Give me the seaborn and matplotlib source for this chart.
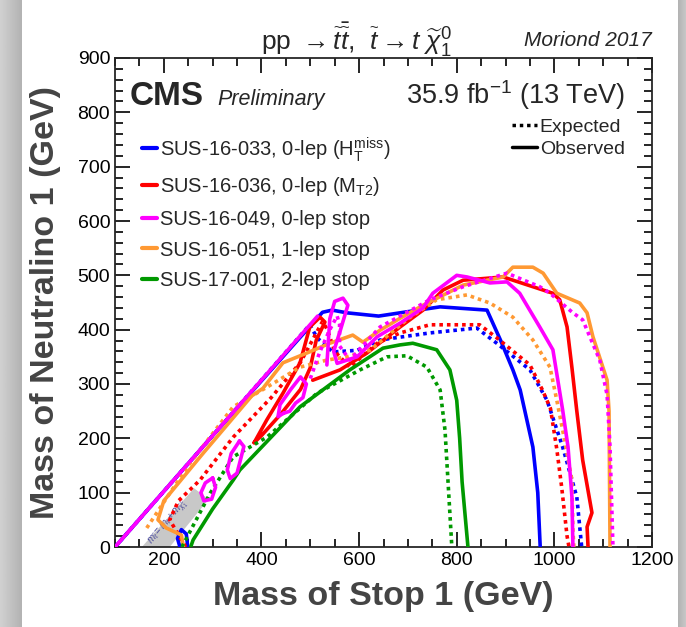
import numpy as np
import pandas as pd
import matplotlib
matplotlib.use('Agg')
import matplotlib.pyplot as plt
import seaborn as sns

# ---- limit contours (m_stop, m_LSP in GeV) ----
diag_x = [100, 300, 515]
diag_y = [0, 205, 425]

blue_obs_x = [105, 300, 525, 545, 575, 640, 684, 766, 862, 890, 915, 930, 956, 966, 971]
blue_obs_y = [5, 205, 432, 436, 431, 425, 431, 442, 436, 380, 326, 289, 184, 100, 0]
blue_bump_x = [233, 228, 236, 246, 249]
blue_bump_y = [0, 16, 32, 24, 0]
blue_exp_x = [100, 300, 499, 514, 546, 596, 643, 745, 841, 882, 950, 985, 1017, 1046, 1056]
blue_exp_y = [0, 205, 409, 385, 359, 362, 381, 394, 403, 375, 326, 270, 184, 92, 0]

red_obs_x = [385, 411, 444, 479, 499, 520, 530, 512, 500, 480, 440, 400, 385,
             None, 505, 561, 616, 684, 731, 772, 813, 895, 997, 1011, 1026, 1036,
             1046, 1058, 1077, 1067, 1069]
red_obs_y = [192, 234, 283, 339, 405, 423, 414, 380, 330, 290, 245, 205, 192,
             None, 307, 326, 357, 405, 436, 473, 491, 497, 467, 455, 405, 330,
             250, 160, 63, 37, 0]
red_exp_x = [245, 212, 230, 274, 342, 420, 480, 510, 525, 535, 550, 581, 637, 684,
             745, 847, 882, 950, 975, 992, 1005, 1015, 1026, 1030]
red_exp_y = [0, 50, 85, 123, 202, 275, 340, 390, 415, 400, 360, 331, 375, 394,
             409, 409, 385, 335, 290, 255, 180, 110, 20, 0]

mag_obs_x = [534, 540, 550, 567, 577, 562, 548, 555, 596, 637, 684, 731, 751, 800,
             821, 868, 903, 929, 970, 997, 1017, 1028, 1036, 1038]
mag_obs_y = [335, 420, 452, 458, 445, 400, 360, 338, 350, 387, 412, 440, 467, 500,
             497, 486, 488, 467, 405, 363, 252, 184, 92, 0]
mag_isl1_x = [300, 285, 276, 282, 298, 306, 300]
mag_isl1_y = [127, 118, 100, 85, 88, 110, 127]
mag_isl2_x = [355, 338, 330, 336, 350, 364, 355]
mag_isl2_y = [195, 172, 142, 126, 136, 185, 195]
mag_isl3_x = [445, 434, 438, 460, 480, 492, 485, 470, 458, 445]
mag_isl3_y = [246, 240, 262, 290, 313, 300, 275, 265, 250, 246]
mag_exp_x = [500, 520, 540, 555, 560, 560, 581, 643, 745, 813, 903, 970, 991, 1038,
             1058, 1093, 1108, 1114, 1120]
mag_exp_y = [310, 360, 400, 425, 410, 370, 344, 405, 455, 479, 504, 479, 467, 431,
             418, 344, 280, 184, 0]

ora_obs_x = [240, 236, 205, 188, 200, 280, 380, 403, 444, 493, 540, 587, 608, 643,
             684, 731, 813, 895, 915, 956, 977, 1005, 1052, 1067, 1079, 1108, 1112, 1114]
ora_obs_y = [0, 22, 35, 50, 85, 172, 278, 292, 339, 357, 375, 390, 377, 399,
             421, 445, 482, 497, 515, 515, 504, 467, 449, 431, 387, 307, 250, 0]
ora_exp_x = [165, 250, 342, 411, 479, 534, 575, 622, 700, 759, 821, 868, 915, 956,
             991, 1005, 1017, 1036, 1038, 1040]
ora_exp_y = [35, 150, 258, 294, 331, 344, 350, 362, 420, 455, 464, 449, 423, 381,
             331, 270, 215, 123, 31, 0]

grn_obs_x = [255, 260, 300, 342, 356, 479, 581, 649, 684, 710, 759, 786, 800, 806,
             811, 818, 823]
grn_obs_y = [0, 13, 70, 123, 142, 258, 326, 366, 372, 375, 363, 326, 270, 200,
             120, 50, 0]
grn_exp_x = [237, 295, 342, 411, 514, 602, 657, 698, 739, 766, 776, 782, 790]
grn_exp_y = [0, 99, 166, 202, 283, 326, 350, 352, 331, 289, 215, 123, 0]

band_x = [155, 212, 292, 262]
band_y = [0, 0, 88, 108]

labels = ['SUS-16-033, 0-lep (H$_\\mathrm{T}^\\mathrm{miss}$)',
          'SUS-16-036, 0-lep (M$_\\mathrm{T2}$)',
          'SUS-16-049, 0-lep stop',
          'SUS-16-051, 1-lep stop',
          'SUS-17-001, 2-lep stop']
colors = ['#0000ff', '#ff0000', '#ff00ff', '#ff9933', '#009900']

sns.set_style('ticks')
plt.rcParams['font.family'] = ['Liberation Sans', 'DejaVu Sans']
plt.rcParams['mathtext.fontset'] = 'custom'
plt.rcParams['mathtext.rm'] = 'Liberation Sans'
plt.rcParams['mathtext.it'] = 'Liberation Sans:italic'
plt.rcParams['mathtext.bf'] = 'Liberation Sans:bold'

fig = plt.figure(figsize=(6.86, 6.27), dpi=100)
ax = fig.add_axes([115/686, 80/627, 537/686, 489/627])

# grey screenshot edges
gl = fig.add_axes([0, 0, 22/686, 1])
gl.imshow(np.linspace(0.82, 0.70, 50).reshape(1, -1), cmap='gray', vmin=0, vmax=1,
          aspect='auto')
gl.axis('off')
gr = fig.add_axes([678/686, 0, 8/686, 1])
gr.imshow(np.linspace(0.70, 0.78, 20).reshape(1, -1), cmap='gray', vmin=0, vmax=1,
          aspect='auto')
gr.axis('off')

ax.fill(band_x, band_y, color='#c8c8c8', zorder=1, lw=0)
ax.text(210, 45, r'$m_{\tilde{t}}=m_{t}+m_{\tilde{\chi}^{0}_{1}}$', rotation=50,
        fontsize=7, color='#444499', ha='center', va='center', zorder=2)

lw = 2.6
dot = (0, (1, 1.1))


def draw(xs, ys, color, style):
    if None in xs:
        i = xs.index(None)
        draw(xs[:i], ys[:i], color, style)
        draw(xs[i + 1:], ys[i + 1:], color, style)
        return
    d = pd.DataFrame({'x': xs, 'y': ys})
    sns.lineplot(data=d, x='x', y='y', sort=False, estimator=None, color=color,
                 lw=lw, linestyle=style, ax=ax, zorder=3)


draw(blue_exp_x, blue_exp_y, colors[0], dot)
draw(blue_obs_x, blue_obs_y, colors[0], '-')
draw(blue_bump_x, blue_bump_y, colors[0], '-')
draw(red_exp_x, red_exp_y, colors[1], dot)
draw(red_obs_x, red_obs_y, colors[1], '-')
draw(ora_exp_x, ora_exp_y, colors[3], dot)
draw(ora_obs_x, ora_obs_y, colors[3], '-')
draw(grn_exp_x, grn_exp_y, colors[4], dot)
draw(grn_obs_x, grn_obs_y, colors[4], '-')
draw(mag_exp_x, mag_exp_y, colors[2], dot)
draw(mag_obs_x, mag_obs_y, colors[2], '-')
draw(diag_x, diag_y, colors[2], '-')
for xs, ys in [(mag_isl1_x, mag_isl1_y), (mag_isl2_x, mag_isl2_y), (mag_isl3_x, mag_isl3_y)]:
    draw(xs, ys, colors[2], '-')

ax.set_xlim(100, 1200)
ax.set_ylim(0, 900)
ax.set_xticks(range(200, 1201, 200))
ax.set_xticks(range(100, 1201, 50), minor=True)
ax.set_yticks(range(0, 901, 100))
ax.set_yticks(range(0, 901, 20), minor=True)
ax.tick_params(which='both', direction='in', top=True, right=True, width=1.2,
               labelsize=14, colors='black')
ax.tick_params(which='major', length=11)
ax.tick_params(which='minor', length=6)
for s in ax.spines.values():
    s.set_linewidth(1.3)
ax.set_xlabel('Mass of Stop 1 (GeV)', fontsize=24.5, fontweight='bold', color='#444444',
              labelpad=9)
ax.set_ylabel('Mass of Neutralino 1 (GeV)', fontsize=24.5, fontweight='bold',
              color='#444444', labelpad=12)

# analysis legend
handles = [matplotlib.lines.Line2D([], [], color=c, lw=3) for c in colors]
leg = ax.legend(handles, labels, loc='upper left', bbox_to_anchor=(0.017, 0.88),
                frameon=False, fontsize=14.5, handlelength=0.75, handletextpad=0.15,
                labelspacing=0.58, borderaxespad=0.5)
ax.add_artist(leg)
h2 = [matplotlib.lines.Line2D([], [], color='black', lw=2.5, linestyle=dot),
      matplotlib.lines.Line2D([], [], color='black', lw=2.5)]
ax.legend(h2, ['Expected', 'Observed'], loc='upper right', bbox_to_anchor=(0.982, 0.912),
          frameon=False, fontsize=14, handlelength=1.3, handletextpad=0.15,
          labelspacing=0.2)

ax.text(0.028, 0.952, 'CMS', transform=ax.transAxes, fontsize=24, fontweight='bold',
        va='top')
ax.text(0.19, 0.937, 'Preliminary', transform=ax.transAxes, fontsize=15.5,
        style='italic', va='top')
ax.text(0.95, 0.958, r'35.9 fb$^{-1}$ (13 TeV)', transform=ax.transAxes, fontsize=19.5,
        ha='right', va='top')
fig.text(356/686, 1 - 40/627,
         r'pp $\rightarrow \widetilde{t}\bar{\widetilde{t}}$,  $\widetilde{t} \rightarrow t\;\widetilde{\chi}^{0}_{1}$',
         fontsize=19, ha='center', va='center')
fig.text(652/686, 1 - 40/627, 'Moriond 2017', fontsize=15, style='italic',
         ha='right', va='center')

fig.savefig('out.png', dpi=100)
